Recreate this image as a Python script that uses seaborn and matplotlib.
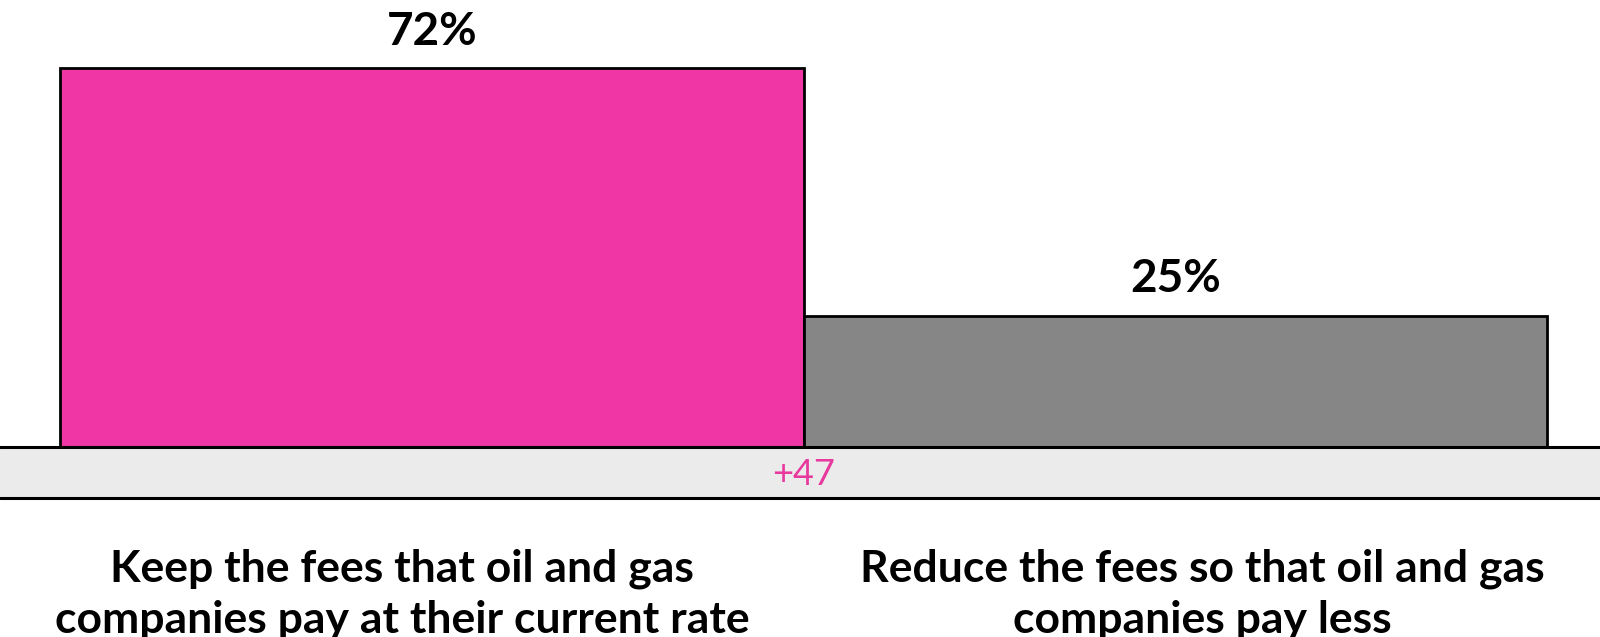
import matplotlib
matplotlib.use("Agg")
import matplotlib.pyplot as plt
import seaborn as sns
import pandas as pd

categories = [
    "Keep the fees that oil and gas\ncompanies pay at their current rate",
    "Reduce the fees so that oil and gas\ncompanies pay less",
]
values = [72, 25]
value_labels = ["72%", "25%"]
bar_colors = ["#F035A5", "#868686"]
margin_label = "+47"

sns.set_theme(style="white")
plt.rcParams["font.family"] = ["Lato", "DejaVu Sans"]

W, H = 1600, 637
fig = plt.figure(figsize=(W / 100, H / 100), dpi=100)

# axes span the full width; the grey band sits between y=-band_depth and 0
base_px, band_bottom_px = 447, 498
px_per_unit = 5.26
band_depth = (band_bottom_px - base_px) / px_per_unit
ax = fig.add_axes([0, 1 - band_bottom_px / H, 1, band_bottom_px / H])

df = pd.DataFrame({"cat": categories, "val": values})
sns.barplot(data=df, x="cat", y="val", hue="cat", palette=bar_colors,
            width=1.0, legend=False, ax=ax, edgecolor="black", linewidth=2,
            saturation=1)

left_px, right_px = 60, 1547
unit = (right_px - left_px) / 2
ax.set_xlim(-0.5 - left_px / unit, 1.5 + (W - right_px) / unit)
ax.set_ylim(-band_depth, base_px / px_per_unit)

# bottom band with rules above and below
ax.axhspan(-band_depth, 0, color="#EBEBEB", zorder=0)
ax.axhline(0, color="black", lw=2.2, zorder=3)
ax.axhline(-band_depth, color="black", lw=2.2, zorder=3, clip_on=False)

# value labels above bars
for i, (v, lab) in enumerate(zip(values, value_labels)):
    ax.annotate(lab, (i, v), xytext=(0, 17), textcoords="offset points",
                ha="center", va="baseline", fontsize=33, fontweight="bold",
                color="black")

# lead margin in the band
ax.text(0.5, -band_depth / 2 - 0.4, margin_label, ha="center", va="center",
        fontsize=26, color="#E8399E")

# category labels under the band
label_shift = [-0.04, 0.036]
for i, cat in enumerate(categories):
    ax.annotate(cat, (i + label_shift[i], -band_depth), xytext=(0, -96),
                textcoords="offset pixels", ha="center", va="center",
                fontsize=32, fontweight="bold", color="black",
                linespacing=1.32, annotation_clip=False)

ax.set_xticks([])
ax.set_yticks([])
ax.set_xlabel("")
ax.set_ylabel("")
for s in ax.spines.values():
    s.set_visible(False)

fig.savefig("out.png", dpi=100)
